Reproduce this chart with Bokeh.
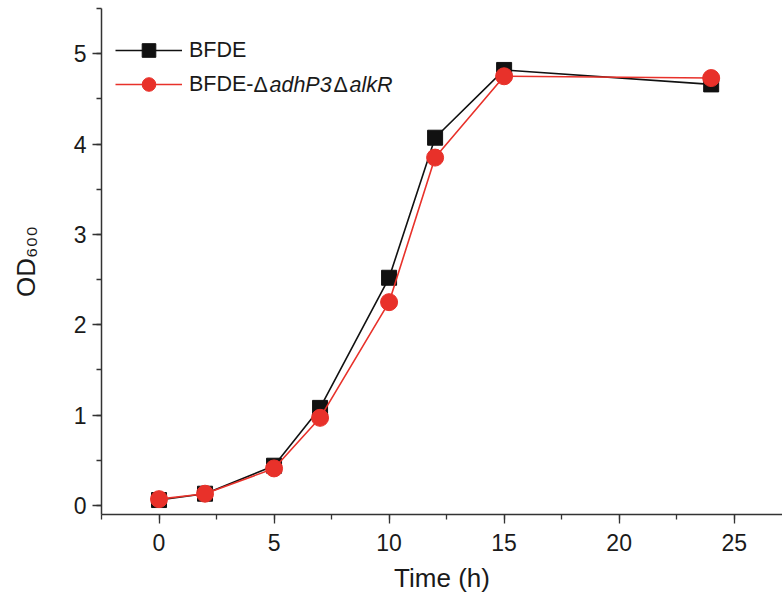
from bokeh.plotting import figure
from bokeh.models import (Range1d, SingleIntervalTicker, Legend, LegendItem, Label)
from bokeh.embed import file_html
from bokeh.resources import INLINE

# ---- data ----
time_h = [0, 2, 5, 7, 10, 12, 15, 24]
bfde = [0.06, 0.13, 0.44, 1.08, 2.52, 4.07, 4.82, 4.66]
bfde_mut = [0.07, 0.13, 0.41, 0.97, 2.25, 3.85, 4.75, 4.73]
x_ticks_interval = 5
y_ticks_interval = 1

BLACK = "#111111"
RED = "#E8312A"
AXIS = "#333333"
TXT = "#1a1a1a"
FONT = "Liberation Sans"

p = figure(width=782, height=603, output_backend="svg", toolbar_location=None,
           x_range=Range1d(-2.5, 27.1), y_range=Range1d(-0.1, 5.5),
           min_border_left=101, min_border_right=0, min_border_top=8, min_border_bottom=89)
p.outline_line_color = None
p.xgrid.visible = False
p.ygrid.visible = False
p.background_fill_color = "white"

r1 = p.line(time_h, bfde, line_color=BLACK, line_width=1.6)
s1 = p.scatter(time_h, bfde, marker="square", size=15, fill_color=BLACK, line_color=BLACK)
r2 = p.line(time_h, bfde_mut, line_color=RED, line_width=1.6)
s2 = p.scatter(time_h, bfde_mut, marker="circle", size=17, fill_color=RED, line_color=RED)

for ax in (p.xaxis[0], p.yaxis[0]):
    ax.axis_line_color = AXIS
    ax.axis_line_width = 1.5
    ax.major_tick_line_color = AXIS
    ax.minor_tick_line_color = AXIS
    ax.major_tick_line_width = 1.3
    ax.minor_tick_line_width = 1.3
    ax.major_tick_in = 0
    ax.major_tick_out = 9
    ax.minor_tick_in = 0
    ax.minor_tick_out = 5
    ax.major_label_text_font = FONT
    ax.major_label_text_font_size = "23px"
    ax.major_label_text_color = TXT
    ax.axis_label_text_font = FONT
    ax.axis_label_text_font_style = "normal"
    ax.axis_label_text_color = TXT

p.xaxis.ticker = SingleIntervalTicker(interval=x_ticks_interval, num_minor_ticks=2)
p.yaxis.ticker = SingleIntervalTicker(interval=y_ticks_interval, num_minor_ticks=2)
p.xaxis.major_label_standoff = 10
p.yaxis.major_label_standoff = 6
p.xaxis.axis_label = "Time (h)"
p.xaxis.axis_label_text_font_size = "26px"
p.xaxis.axis_label_standoff = 9
p.yaxis.axis_label = "OD\u2086\u2080\u2080"
p.yaxis.axis_label_text_font_size = "26px"
p.yaxis.axis_label_standoff = 30

legend = Legend(items=[LegendItem(label="BFDE", renderers=[r1, s1]),
                       LegendItem(label="BFDE-", renderers=[r2, s2])],
                location=(14, 413), orientation="vertical",
                glyph_width=67, glyph_height=34, label_height=34, spacing=0,
                label_standoff=7, padding=0, margin=0,
                border_line_alpha=0, background_fill_alpha=0,
                label_text_font=FONT, label_text_font_size="21.5px",
                label_text_color=TXT)
p.add_layout(legend)

row2_y = 514 - 84
parts = [("Δ", 253 - 101, "normal"), ("adhP3", 269 - 101, "italic"),
         ("Δ", 333 - 101, "normal"), ("alkR", 349 - 101, "italic")]
for txt, xx, style in parts:
    p.add_layout(Label(x=xx, y=row2_y, x_units="screen", y_units="screen", text=txt,
                       text_font=FONT, text_font_size="21.5px", text_font_style=style,
                       text_align="left", text_baseline="middle", text_color=TXT))

open("out.html", "w").write(file_html(p, INLINE))
